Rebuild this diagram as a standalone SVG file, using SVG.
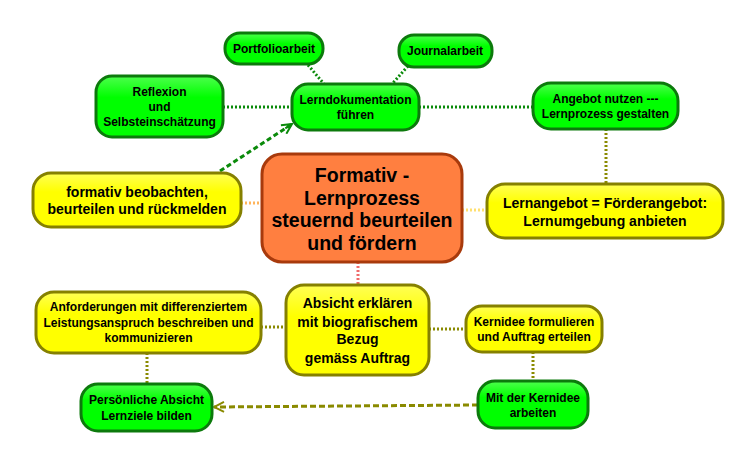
<svg xmlns="http://www.w3.org/2000/svg" width="756" height="464" viewBox="0 0 756 464">
<defs>
<linearGradient id="gG" x1="0" y1="0" x2="0" y2="1"><stop offset="0" stop-color="#4dff4d"/><stop offset="0.35" stop-color="#00ff00"/><stop offset="1" stop-color="#00ff00"/></linearGradient>
<linearGradient id="gY" x1="0" y1="0" x2="0" y2="1"><stop offset="0" stop-color="#ffff55"/><stop offset="0.35" stop-color="#ffff00"/><stop offset="1" stop-color="#ffff00"/></linearGradient>
<marker id="arrG" viewBox="0 0 12 12" refX="11" refY="6" markerWidth="4" markerHeight="4" orient="auto" markerUnits="strokeWidth"><path d="M1,1 L11,6 L1,11 M11,6 L3,6" fill="none" stroke="#0a8a0a" stroke-width="2"/></marker>
<marker id="arrO" viewBox="0 0 12 12" refX="11" refY="6" markerWidth="4" markerHeight="4" orient="auto" markerUnits="strokeWidth"><path d="M1,1 L11,6 L1,11" fill="none" stroke="#8a8a00" stroke-width="2"/></marker>
</defs>
<style>
.g{fill:url(#gG);stroke:#0c7a0c;stroke-width:3}
.y{fill:url(#gY);stroke:#858000;stroke-width:3}
.c{fill:#ff7f40;stroke:#a83a0c;stroke-width:3}
text{font-family:"Liberation Sans",Arial,sans-serif;font-weight:bold;fill:#000;text-anchor:middle}
.s{font-size:12px}
.m{font-size:14px}
.l{font-size:19.5px}
.dg{stroke:#0a8a0a;stroke-width:3;stroke-dasharray:2 2;fill:none}
.do{stroke:#8a8a00;stroke-width:3;stroke-dasharray:2 2;fill:none}
</style>
<rect width="756" height="464" fill="#fff"/>
<g id="connectors">
<line class="dg" x1="308" y1="65" x2="324" y2="84"/>
<line class="dg" x1="408" y1="66" x2="392" y2="84"/>
<line class="dg" x1="223" y1="107" x2="292" y2="107"/>
<line class="dg" x1="419" y1="107" x2="533" y2="107"/>
<line class="do" x1="606" y1="129" x2="606" y2="184"/>
<line x1="220" y1="171" x2="292" y2="124" stroke="#0a8a0a" stroke-width="3" stroke-dasharray="5 3" marker-end="url(#arrG)"/>
<line x1="241" y1="203" x2="262" y2="203" stroke="#ffb45a" stroke-width="3" stroke-dasharray="2 2"/>
<line x1="462" y1="210" x2="487" y2="210" stroke="#ffe070" stroke-width="3" stroke-dasharray="2 2"/>
<line x1="358" y1="262" x2="358" y2="285" stroke="#f06a6a" stroke-width="3" stroke-dasharray="2 2"/>
<line class="do" x1="261" y1="327" x2="286" y2="327"/>
<line class="do" x1="429" y1="329" x2="466" y2="329"/>
<line class="do" x1="533" y1="352" x2="533" y2="381"/>
<line class="do" x1="147" y1="353" x2="147" y2="384"/>
<line x1="478" y1="405" x2="214" y2="407" stroke="#8a8a00" stroke-width="3" stroke-dasharray="6 3" marker-end="url(#arrO)"/>
</g>
<g id="n-portfolio"><rect class="g" x="225" y="33" width="98" height="31" rx="15"/><text class="s" x="274" y="53">Portfolioarbeit</text></g>
<g id="n-journal"><rect class="g" x="399" y="35" width="93" height="32" rx="15"/><text class="s" x="445" y="55">Journalarbeit</text></g>
<g id="n-reflexion"><rect class="g" x="96" y="76" width="127" height="61" rx="16"/><text class="s" x="159.5" y="96">Reflexion</text><text class="s" x="159.5" y="111">und</text><text class="s" x="159.5" y="126">Selbsteinschätzung</text></g>
<g id="n-lerndok"><rect class="g" x="292" y="84" width="127" height="46" rx="16"/><text class="s" x="355.5" y="104">Lerndokumentation</text><text class="s" x="355.5" y="119">führen</text></g>
<g id="n-angebot"><rect class="g" x="533" y="83" width="145" height="46" rx="18"/><text class="s" x="605.5" y="103">Angebot nutzen ---</text><text class="s" x="605.5" y="118">Lernprozess gestalten</text></g>
<g id="n-formativ"><rect class="y" x="33" y="173" width="208" height="54" rx="18"/><text class="m" x="137" y="197">formativ beobachten,</text><text class="m" x="137" y="214">beurteilen und rückmelden</text></g>
<g id="n-center"><rect class="c" x="262" y="154" width="200" height="108" rx="20"/><text class="l" x="362" y="182">Formativ -</text><text class="l" x="362" y="204.5">Lernprozess</text><text class="l" x="362" y="227">steuernd beurteilen</text><text class="l" x="362" y="249.5">und fördern</text></g>
<g id="n-lernangebot"><rect class="y" x="487" y="184" width="236" height="54" rx="18"/><text class="m" x="605" y="208">Lernangebot = Förderangebot:</text><text class="m" x="605" y="226">Lernumgebung anbieten</text></g>
<g id="n-anforderungen"><rect class="y" x="36" y="292" width="225" height="61" rx="18"/><text class="s" x="148.5" y="311">Anforderungen mit differenziertem</text><text class="s" x="148.5" y="327">Leistungsanspruch beschreiben und</text><text class="s" x="148.5" y="342">kommunizieren</text></g>
<g id="n-absicht"><rect class="y" x="286" y="285" width="143" height="90" rx="18"/><text class="m" x="357.5" y="308">Absicht erklären</text><text class="m" x="357.5" y="327">mit biografischem</text><text class="m" x="357.5" y="344">Bezug</text><text class="m" x="357.5" y="363">gemäss Auftrag</text></g>
<g id="n-kernidee"><rect class="y" x="466" y="306" width="136" height="46" rx="16"/><text class="s" x="534" y="326">Kernidee formulieren</text><text class="s" x="534" y="341">und Auftrag erteilen</text></g>
<g id="n-persoenlich"><rect class="g" x="81" y="384" width="131" height="47" rx="17"/><text class="s" x="146.5" y="404">Persönliche Absicht</text><text class="s" x="146.5" y="420">Lernziele bilden</text></g>
<g id="n-mitkernidee"><rect class="g" x="478" y="381" width="110" height="47" rx="17"/><text class="s" x="533" y="402">Mit der Kernidee</text><text class="s" x="533" y="417">arbeiten</text></g>
</svg>
